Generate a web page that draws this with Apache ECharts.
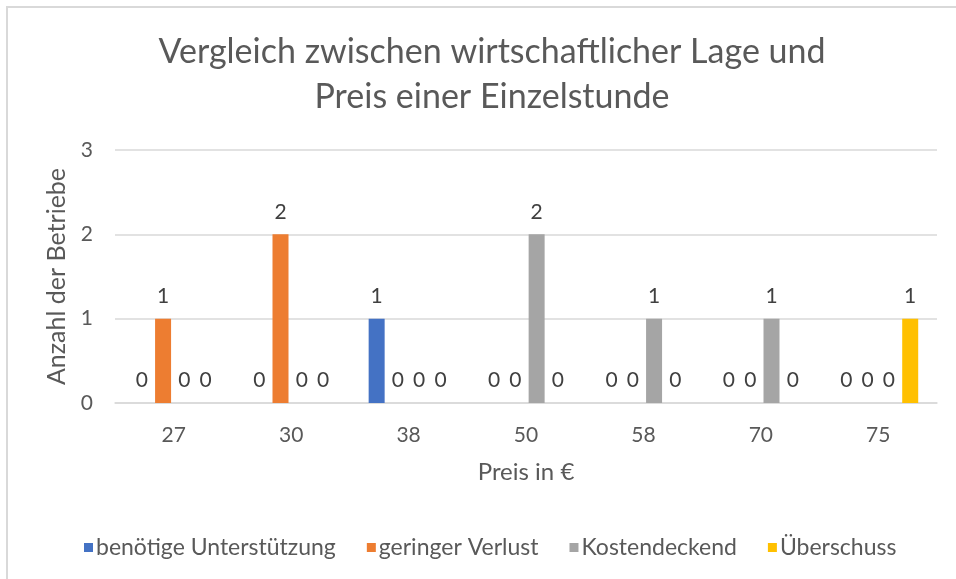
<!DOCTYPE html>
<html>
<head>
<meta charset="utf-8">
<script src="https://cdn.jsdelivr.net/npm/echarts@6/dist/echarts.min.js"></script>
<style>
  html, body { margin: 0; padding: 0; background: #fff; }
  #frame { position: absolute; left: 6px; top: 6px; width: 1000px; height: 600px;
           border-left: 2px solid #d9d9d9; border-top: 2px solid #d9d9d9; box-sizing: border-box; }
  #chart { position: absolute; left: 0; top: 0; width: 956px; height: 579px; }
</style>
</head>
<body>
<div id="frame"></div>
<div id="chart"></div>
<script>
// Preis je Einzelstunde (Kategorien) und Anzahl der Betriebe je wirtschaftlicher Lage
const preise = ['27', '30', '38', '50', '58', '70', '75'];
const unterstuetzung = [0, 0, 1, 0, 0, 0, 0];
const geringerVerlust = [1, 2, 0, 0, 0, 0, 0];
const kostendeckend = [0, 0, 0, 2, 1, 1, 0];
const ueberschuss = [0, 0, 0, 0, 0, 0, 1];
const yTicks = [0, 1, 2, 3];

const FONT = 'Lato, "Open Sans", sans-serif';
const TEXT = '#595959';

function bar(name, data, color) {
  return {
    name, type: 'bar', data,
    barWidth: 16,
    barGap: '33%',
    itemStyle: { color },
    label: { show: true, position: 'top', distance: 12, color: '#404040', fontSize: 21, fontFamily: FONT }
  };
}

const chart = echarts.init(document.getElementById('chart'), null, { renderer: 'canvas' });
chart.setOption({
  animation: false,
  textStyle: { fontFamily: FONT },
  title: {
    text: 'Vergleich zwischen wirtschaftlicher Lage und\nPreis einer Einzelstunde',
    left: 487, top: 25, textAlign: 'center',
    textStyle: { fontSize: 34, fontWeight: 'normal', color: TEXT, lineHeight: 45, fontFamily: FONT }
  },
  legend: {
    left: 84, top: 536, padding: 0,
    icon: 'rect', itemWidth: 9, itemHeight: 9, itemGap: 31,
    textStyle: { fontSize: 23, color: TEXT, fontFamily: FONT, padding: [0, 0, 0, -2] },
    data: ['benötige Unterstützung', 'geringer Verlust', 'Kostendeckend', 'Überschuss']
  },
  grid: { left: 115, right: 19, top: 150, bottom: 176, containLabel: false },
  xAxis: {
    type: 'category', data: preise,
    name: 'Preis in €', nameLocation: 'middle', nameGap: 57,
    nameTextStyle: { fontSize: 24, color: TEXT, fontFamily: FONT },
    axisLine: { lineStyle: { color: '#d9d9d9', width: 1.5 } },
    axisTick: { show: false },
    axisLabel: { color: TEXT, fontSize: 21, margin: 22, fontFamily: FONT }
  },
  yAxis: {
    type: 'value', min: yTicks[0], max: yTicks[yTicks.length - 1], interval: 1,
    name: 'Anzahl der Betriebe', nameLocation: 'middle', nameGap: 46,
    nameTextStyle: { fontSize: 25, color: TEXT, fontFamily: FONT },
    axisLine: { show: false },
    axisTick: { show: false },
    axisLabel: { color: TEXT, fontSize: 21, margin: 22, fontFamily: FONT },
    splitLine: { lineStyle: { color: '#d9d9d9', width: 1.5 } }
  },
  series: [
    bar('benötige Unterstützung', unterstuetzung, '#4472C4'),
    bar('geringer Verlust', geringerVerlust, '#ED7D31'),
    bar('Kostendeckend', kostendeckend, '#A5A5A5'),
    bar('Überschuss', ueberschuss, '#FFC000')
  ]
});
</script>
</body>
</html>
